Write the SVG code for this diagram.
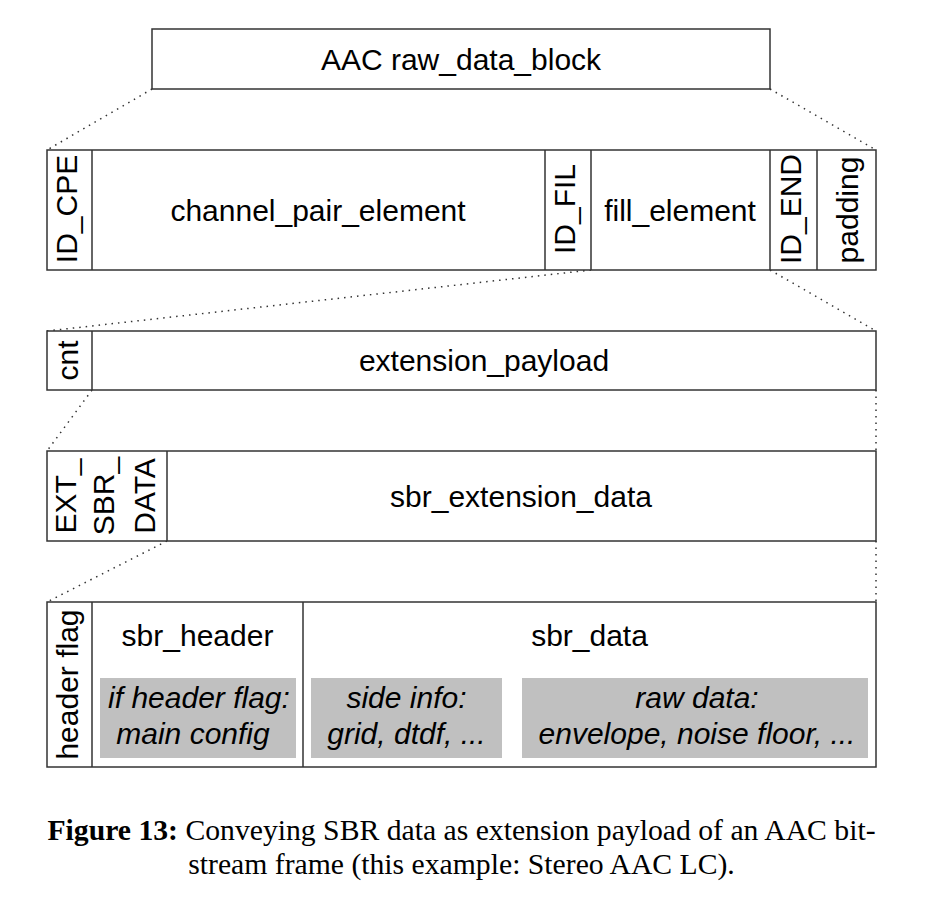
<svg xmlns="http://www.w3.org/2000/svg" width="937" height="901" viewBox="0 0 937 901">
<style>
.box{fill:#fff;stroke:#333;stroke-width:1.5}
.div{stroke:#333;stroke-width:1.5}
.gray{fill:#c0c0c0;stroke:none}
.t{font-family:"Liberation Sans",Arial,sans-serif;font-size:30px;fill:#000;text-anchor:middle}
.ti{font-family:"Liberation Sans",Arial,sans-serif;font-size:30px;font-style:italic;fill:#000;text-anchor:middle}
.cap{font-family:"Liberation Serif","Times New Roman",serif;font-size:29.7px;fill:#000;text-anchor:middle}
.dot{stroke:#333;stroke-width:1.5;stroke-dasharray:1.5 5;fill:none}
</style>
<rect width="937" height="901" fill="#fff"/>
<g id="connectors">
<line class="dot" x1="152" y1="89" x2="47" y2="150"/>
<line class="dot" x1="770" y1="89" x2="876" y2="150"/>
<line class="dot" x1="591" y1="270" x2="47" y2="331"/>
<line class="dot" x1="770" y1="270" x2="876" y2="331"/>
<line class="dot" x1="92" y1="390" x2="47" y2="451"/>
<line class="dot" x1="876" y1="390" x2="876" y2="451"/>
<line class="dot" x1="167" y1="541" x2="47" y2="602"/>
<line class="dot" x1="876" y1="541" x2="876" y2="602"/>
</g>
<g id="raw_data_block">
<rect class="box" x="152" y="29" width="618" height="60"/>
<text class="t" x="461" y="70">AAC raw_data_block</text>
</g>
<g id="row2">
<rect class="box" x="47" y="150" width="829" height="120"/>
<line class="div" x1="92" y1="150" x2="92" y2="270"/>
<line class="div" x1="545" y1="150" x2="545" y2="270"/>
<line class="div" x1="591" y1="150" x2="591" y2="270"/>
<line class="div" x1="770" y1="150" x2="770" y2="270"/>
<line class="div" x1="817" y1="150" x2="817" y2="270"/>
<text class="t" transform="translate(77,209) rotate(-90)">ID_CPE</text>
<text class="t" x="318" y="221">channel_pair_element</text>
<text class="t" transform="translate(575,209) rotate(-90)">ID_FIL</text>
<text class="t" x="680" y="221">fill_element</text>
<text class="t" transform="translate(801,209) rotate(-90)">ID_END</text>
<text class="t" transform="translate(858,210) rotate(-90)">padding</text>
</g>
<g id="row3">
<rect class="box" x="47" y="331" width="829" height="59"/>
<line class="div" x1="92" y1="331" x2="92" y2="390"/>
<text class="t" transform="translate(78,360.5) rotate(-90)">cnt</text>
<text class="t" x="484" y="371">extension_payload</text>
</g>
<g id="row4">
<rect class="box" x="47" y="451" width="829" height="90"/>
<line class="div" x1="167" y1="451" x2="167" y2="541"/>
<text class="t" transform="translate(76,496) rotate(-90)">EXT_</text>
<text class="t" transform="translate(114,496) rotate(-90)">SBR_</text>
<text class="t" transform="translate(155,496) rotate(-90)">DATA</text>
<text class="t" x="521" y="507">sbr_extension_data</text>
</g>
<g id="row5">
<rect class="box" x="47" y="602" width="829" height="165"/>
<line class="div" x1="92" y1="602" x2="92" y2="767"/>
<line class="div" x1="303" y1="602" x2="303" y2="767"/>
<text class="t" transform="translate(78,684.5) rotate(-90)">header flag</text>
<text class="t" x="197.5" y="646">sbr_header</text>
<text class="t" x="589.5" y="646">sbr_data</text>
<rect class="gray" x="100" y="678" width="196" height="80"/>
<rect class="gray" x="311" y="678" width="191" height="80"/>
<rect class="gray" x="522" y="678" width="346" height="80"/>
<text class="ti" x="199" y="708">if header flag:</text>
<text class="ti" x="193" y="744">main config</text>
<text class="ti" x="406.5" y="708">side info:</text>
<text class="ti" x="406.5" y="744">grid, dtdf, ...</text>
<text class="ti" x="697" y="708">raw data:</text>
<text class="ti" x="697" y="744">envelope, noise floor, ...</text>
</g>
<g id="caption">
<text class="cap" x="461.5" y="840"><tspan font-weight="bold">Figure 13:</tspan> Conveying SBR data as extension payload of an AAC bit-</text>
<text class="cap" x="461.5" y="874">stream frame (this example: Stereo AAC LC).</text>
</g>
</svg>
